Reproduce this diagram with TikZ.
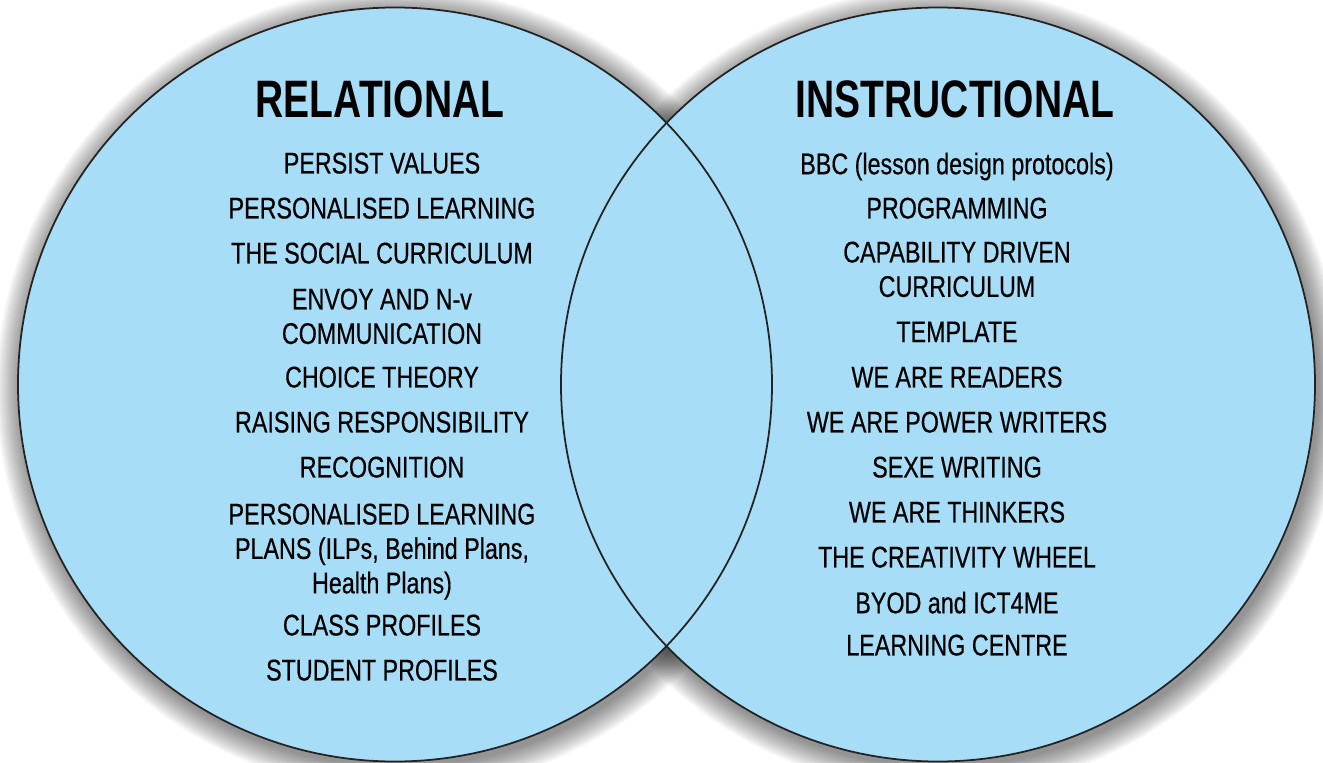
\documentclass[tikz,border=0pt]{standalone}
\usepackage{fontspec}
\setmainfont{Liberation Sans}[FakeStretch=0.78,FakeBold=0.4]
\newfontfamily\headfont{Liberation Sans}[FakeStretch=0.74]
\usetikzlibrary{calc}
\definecolor{vennblue}{RGB}{168,221,247}
\definecolor{vennrim}{RGB}{206,236,251}
\definecolor{vennline}{RGB}{35,35,35}
\pgfdeclareradialshading{venn}{\pgfpoint{0bp}{0bp}}{color(0bp)=(vennblue); color(36bp)=(vennblue); color(50bp)=(vennrim)}
\tikzset{
  item/.style={font=\fontsize{17}{19.6}\selectfont, align=center, inner sep=0pt, anchor=north},
  head/.style={font=\headfont\bfseries\fontsize{30}{32}\selectfont, inner sep=0pt},
  rim/.style={draw=vennline, line width=1pt}
}
\begin{document}
\begin{tikzpicture}[x=0.02cm,y=0.02cm]
\path[use as bounding box] (0,0) rectangle (1323,762);
\fill[white] (0,0) rectangle (1323,762);
\coordinate (L) at (395,377.5);
\coordinate (R) at (938,377.5);
% soft shadow
\foreach \r in {1,...,16}{
  \fill[black,opacity=0.03] ($(L)+(3,-5)$) circle (376+\r*1.6);
  \fill[black,opacity=0.03] ($(R)+(3,-5)$) circle (376+\r*1.6);
}
\shade[shading=venn] (L) circle (377);
\shade[shading=venn] (R) circle (377);
\draw[rim] (L) circle (377);
\draw[rim] (R) circle (377);
% headings
\node[head] (relational) at (380,663) {RELATIONAL};
\node[head] (instructional) at (955,663) {INSTRUCTIONAL};
% relational list
\foreach \y/\txt [count=\i] in {609.75/PERSIST VALUES,
  564.75/PERSONALISED LEARNING,
  519.75/THE SOCIAL CURRICULUM,
  473.75/{ENVOY AND N-v\\COMMUNICATION},
  395.75/CHOICE THEORY,
  350.75/RAISING RESPONSIBILITY,
  305.75/RECOGNITION,
  258.75/{PERSONALISED LEARNING\\PLANS (ILPs, Behind Plans,\\Health Plans)},
  147.75/CLASS PROFILES,
  102.75/STUDENT PROFILES}
  \node[item] (rel\i) at (382,\y) {\txt};
% instructional list
\foreach \y/\txt [count=\i] in {609.75/BBC (lesson design protocols),
  564.75/PROGRAMMING,
  520.75/{CAPABILITY DRIVEN\\CURRICULUM},
  440.75/TEMPLATE,
  395.75/WE ARE READERS,
  350.75/WE ARE POWER WRITERS,
  305.75/SEXE WRITING,
  260.75/WE ARE THINKERS,
  215.75/THE CREATIVITY WHEEL,
  170.75/BYOD and ICT4ME,
  127.75/LEARNING CENTRE}
  \node[item] (ins\i) at (957,\y) {\txt};
\end{tikzpicture}
\end{document}
